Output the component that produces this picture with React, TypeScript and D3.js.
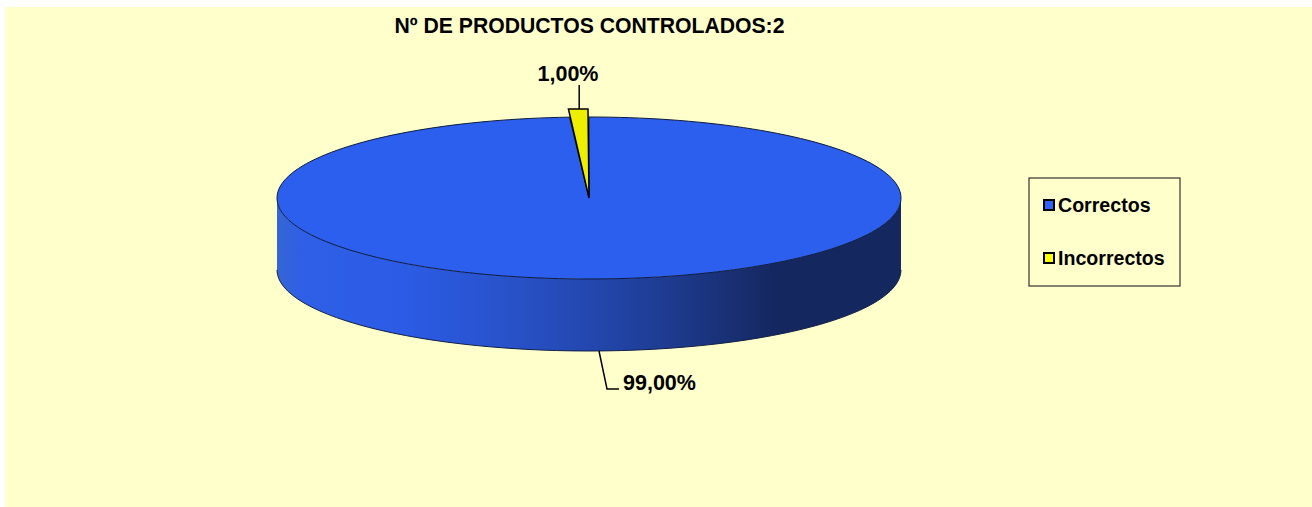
import * as d3 from "d3";

const title = "Nº DE PRODUCTOS CONTROLADOS:2";
const categories = ["Correctos", "Incorrectos"];
const values = [99, 1];
const sliceColors = ["#2d5fee", "#eeee00"];
const legendColors = ["#2f63f7", "#ffff00"];

// side wall shading, left to right across the disc
const wallOffsets = [0, 0.04, 0.2, 0.4, 0.55, 0.68, 0.8, 1];
const wallColors = ["#3666d4", "#2e5fe6", "#2c5ce6", "#2850c4", "#2143a4", "#1b3580", "#14275f", "#14275e"];

const width = 1312;
const height = 507;
const cx = 589;
const cy = 198;
const rx = 312;
const ry = 81;
const depth = 72;
const lift = 8; // yellow slice pokes out above the disc
const font = "'Liberation Sans', Arial, sans-serif";

const pctFormat = d3.formatLocale({
  decimal: ",",
  thousands: ".",
  grouping: [3],
  currency: ["", "€"],
}).format(".2%");

const total = d3.sum(values);
const slices = d3.pie<number>().sort(null)(values);
const x = d3.scaleLinear().domain([-1, 1]).range([cx - rx, cx + rx]);
const y = d3.scaleLinear().domain([-1, 1]).range([cy - ry, cy + ry]);

const arc = d3.arc<d3.PieArcDatum<number>>().innerRadius(0).outerRadius(rx);
const line = d3.line<[number, number]>();

const lowerHalf = d3.range(0, 181, 3).map((d) => (d * Math.PI) / 180);
const rim = (offset: number) =>
  lowerHalf.map((a) => [x(-Math.cos(a)), y(Math.sin(a)) + offset] as [number, number]);
const wallPath =
  (line([...rim(0), ...rim(depth).reverse()]) ?? "") + "Z";
const bottomEdge = line(rim(depth)) ?? "";

const yellow = slices[1];
const yellowTop = y(-1) - lift;
const yellowPath =
  (line([
    [cx, cy],
    [x(Math.sin(yellow.startAngle)) - 1, yellowTop],
    [x(Math.sin(yellow.endAngle)) - 1, yellowTop],
  ]) ?? "") + "Z";

const yellowLeader = x(Math.sin((yellow.startAngle + yellow.endAngle) / 2));

const legendX = 1029;
const legendY = 178;
const legendW = 151;
const legendH = 108;
const legendRows = d3
  .scalePoint<string>()
  .domain(categories)
  .range([legendY + 27, legendY + 80]);

export default function App() {
  return (
    <svg
      width={width}
      height={height}
      style={{ position: "absolute", left: 0, top: 0, display: "block" }}
      fontFamily={font}
      fontWeight="bold"
    >
      <defs>
        <linearGradient id="wall" gradientUnits="userSpaceOnUse" x1={x(-1)} x2={x(1)} y1={0} y2={0}>
          {wallOffsets.map((o, i) => (
            <stop key={o} offset={o} stopColor={wallColors[i]} />
          ))}
        </linearGradient>
      </defs>
      <rect x={5} y={7} width={width - 5} height={height - 7} fill="#ffffcc" />

      <text x={589.5} y={33} textAnchor="middle" fontSize={21.2}>
        {title}
      </text>

      {/* disc */}
      <path d={wallPath} fill="url(#wall)" />
      <path d={bottomEdge} fill="none" stroke="#10204a" strokeWidth={1} />
      <g transform={`translate(${cx},${cy}) scale(1,${ry / rx})`}>
        <path
          d={arc(slices[0]) ?? ""}
          fill={sliceColors[0]}
          stroke="#0c1a40"
          strokeWidth={1}
          vectorEffect="non-scaling-stroke"
        />
      </g>
      <path d={yellowPath} fill={sliceColors[1]} stroke="#000" strokeWidth={1.5} strokeLinejoin="miter" />

      {/* labels */}
      <path d={line([[yellowLeader, yellowTop], [yellowLeader, 85]]) ?? ""} stroke="#000" strokeWidth={1.5} fill="none" />
      <text x={568} y={81} textAnchor="middle" fontSize={21.5}>
        {pctFormat(values[1] / total)}
      </text>
      <path
        d={line([[599, y(1) + depth], [607, 389], [619, 389]]) ?? ""}
        stroke="#000"
        strokeWidth={1.5}
        fill="none"
      />
      <text x={623} y={390} fontSize={21.5}>
        {pctFormat(values[0] / total)}
      </text>

      {/* legend */}
      <rect x={legendX} y={legendY} width={legendW} height={legendH} fill="none" stroke="#333" strokeWidth={1.2} />
      {categories.map((c, i) => (
        <g key={c} transform={`translate(${legendX + 15},${legendRows(c)})`}>
          <rect x={0} y={-5} width={10} height={10} fill={legendColors[i]} stroke="#000" strokeWidth={2} />
          <text x={14} y={7} fontSize={19.6}>
            {c}
          </text>
        </g>
      ))}
    </svg>
  );
}
